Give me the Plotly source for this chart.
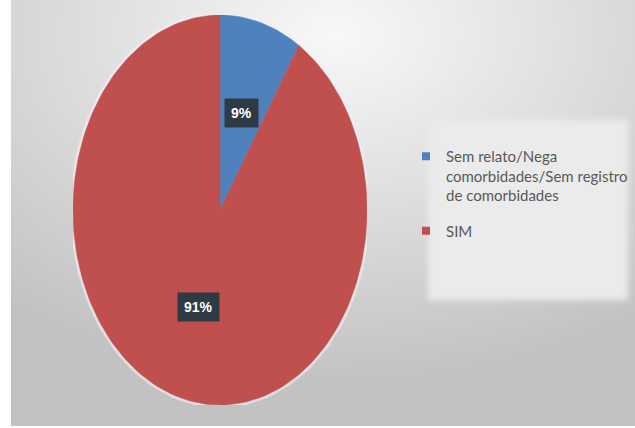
import math
import urllib.parse
import plotly.graph_objects as go

# ---- data ----
categories = ["Sem relato/Nega<br>comorbidades/Sem registro<br>de comorbidades", "SIM"]
values = [9, 91]
labels_pct = ["9%", "91%"]
colors = ["#4F81BD", "#C0504D"]

W, H = 635, 428
fig = go.Figure()

total = sum(values)

# soft halo around the pie
ts = [2 * math.pi * k / 240 for k in range(241)]
fig.add_trace(go.Scatter(
    x=[math.sin(t) for t in ts], y=[math.cos(t) for t in ts],
    mode="lines", line=dict(color="rgba(240,240,248,0.6)", width=6),
    hoverinfo="skip", showlegend=False))

# wedges (clockwise from 12 o'clock)
start = 0.0
for i, (cat, v) in enumerate(zip(categories, values)):
    frac = v / total
    a0, a1 = start * 2 * math.pi, (start + frac) * 2 * math.pi
    n = max(4, int(200 * frac))
    xs, ys = [0.0], [0.0]
    for k in range(n + 1):
        a = a0 + (a1 - a0) * k / n
        xs.append(math.sin(a))
        ys.append(math.cos(a))
    xs.append(0.0); ys.append(0.0)
    fig.add_trace(go.Scatter(
        x=xs, y=ys, mode="lines", fill="toself", fillcolor=colors[i],
        line=dict(color=colors[i], width=0.5), name=cat,
        legendgroup=f"g{i}", showlegend=False, hoverinfo="name"))
    # legend entry
    fig.add_trace(go.Scatter(
        x=[None], y=[None], mode="markers",
        marker=dict(symbol="square", size=8, color=colors[i]),
        name=cat, legendgroup=f"g{i}", showlegend=True))
    # data label
    mid = (start + frac / 2) * 2 * math.pi
    r = 0.52
    fig.add_annotation(
        x=r * math.sin(mid), y=r * math.cos(mid), xref="x", yref="y",
        text=f"<b>{labels_pct[i]}</b>", showarrow=False,
        font=dict(family="Liberation Sans, Arial", size=14, color="white"),
        bgcolor="#2E3A44", borderpad=6)
    start += frac

# background gradient as an SVG image
svg = (
    "<svg xmlns='http://www.w3.org/2000/svg' width='624' height='426' "
    "viewBox='0 0 624 426' preserveAspectRatio='none'>"
    "<defs><radialGradient id='g' cx='0.52' cy='0.08' r='0.82'>"
    "<stop offset='0' stop-color='#f8f8f8'/>"
    "<stop offset='0.45' stop-color='#e0e0e0'/>"
    "<stop offset='1' stop-color='#c2c2c2'/>"
    "</radialGradient>"
    "<filter id='b'><feGaussianBlur stdDeviation='3'/></filter></defs>"
    "<rect width='624' height='426' fill='url(#g)'/>"
    "<rect x='417' y='120' width='200' height='180' fill='#ebebeb' filter='url(#b)'/>"
    "</svg>"
)
src = "data:image/svg+xml;charset=utf-8," + urllib.parse.quote(svg)
fig.add_layout_image(dict(
    source=src, xref="paper", yref="paper", x=11 / W, y=1, sizex=624 / W,
    sizey=426 / H, sizing="stretch", xanchor="left", yanchor="top", layer="below"))

fig.update_layout(
    width=W, height=H, margin=dict(l=0, r=0, t=0, b=0, autoexpand=False),
    paper_bgcolor="white", plot_bgcolor="rgba(0,0,0,0)",
    xaxis=dict(domain=[73 / W, 367 / W], range=[-1, 1], visible=False, fixedrange=True),
    yaxis=dict(domain=[23 / H, 413 / H], range=[-1, 1], visible=False, fixedrange=True),
    legend=dict(x=406 / W, y=1 - 140 / H, xanchor="left", yanchor="top",
                bgcolor="rgba(0,0,0,0)", valign="top", tracegroupgap=13,
                font=dict(family="Lato, Liberation Sans", size=15, color="#595959")),
    showlegend=True,
)

fig.write_html("out.html", config={"displayModeBar": False},
               post_script="document.body.style.margin='0';")
